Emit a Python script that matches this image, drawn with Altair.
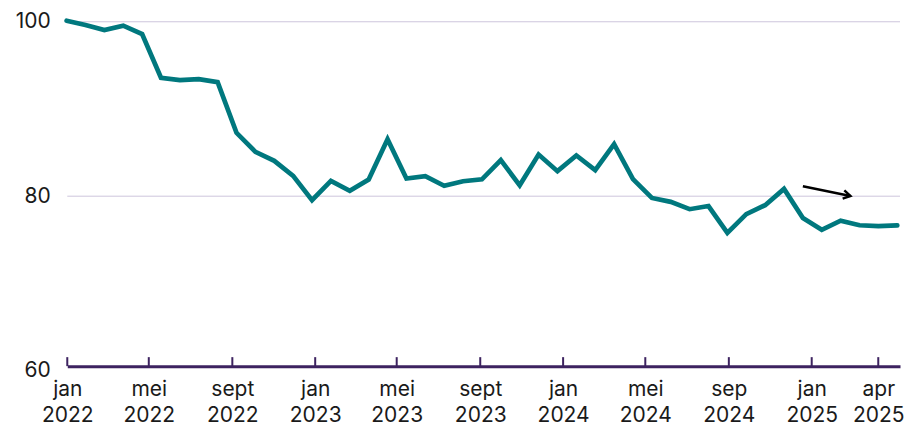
import altair as alt
import pandas as pd

# ---- data (4-weekly index) ----
values = [100.12, 99.62, 99.05, 99.55, 98.59, 93.58, 93.31, 93.43, 93.08, 87.27,
          85.09, 84.05, 82.33, 79.54, 81.76, 80.61, 81.91, 86.54, 82.03, 82.29,
          81.19, 81.72, 81.93, 84.13, 81.25, 84.78, 82.87, 84.67, 82.98, 85.97,
          81.95, 79.80, 79.35, 78.51, 78.87, 75.80, 77.95, 78.97, 80.84, 77.50,
          76.15, 77.20, 76.67, 76.56, 76.65]
first_period = "2021-12-31"
last_period = "2025-05-07"
dates = pd.date_range(first_period, last_period, periods=len(values))

tick_ymd = [(2022, 1, 1), (2022, 5, 1), (2022, 9, 1), (2023, 1, 1), (2023, 5, 1),
            (2023, 9, 1), (2024, 1, 1), (2024, 5, 1), (2024, 9, 1), (2025, 1, 1),
            (2025, 4, 9)]
tick_month_labels = ["jan", "mei", "sept", "jan", "mei", "sept", "jan", "mei",
                     "sep", "jan", "apr"]
tick_year_labels = ["2022", "2022", "2022", "2023", "2023", "2023", "2024", "2024",
                    "2024", "2025", "2025"]

y_ticks = [60, 80, 100]
grid_values = [80, 100]

arrow_dates = ["2024-12-19", "2025-02-27"]
arrow_values = [81.15, 80.03]

# ---- tables ----
df = pd.DataFrame({"date": dates, "value": values})
ticks_df = pd.DataFrame({"date": [pd.Timestamp(y, m, d) for (y, m, d) in tick_ymd]})
grid_df = pd.DataFrame({"value": grid_values})
arrow_df = pd.DataFrame({"date": pd.to_datetime(arrow_dates), "value": arrow_values})
arrow_tip = arrow_df.iloc[[1]]

TEAL = "#00787e"
PURPLE = "#3d2360"
GRID = "#cdc5dc"
TEXT = "#1a1a1a"

x_scale = alt.Scale(domain=[alt.DateTime(year=2022, month=1, date=1),
                            alt.DateTime(year=2025, month=5, date=11)])
y_scale = alt.Scale(domain=[60, 100], nice=False, zero=False)

parts = []
for (y, m, d), ml, yl in zip(tick_ymd, tick_month_labels, tick_year_labels):
    parts.append(f"(year(datum.value)=={y} && month(datum.value)=={m-1}) ? ['{ml}', '{yl}']")
label_expr = " : ".join(parts) + " : ''"

x_axis = alt.Axis(
    values=[alt.DateTime(year=y, month=m, date=d) for (y, m, d) in tick_ymd],
    labelExpr=label_expr,
    title=None,
    grid=False,
    ticks=False,
    domain=True,
    domainColor=PURPLE,
    domainWidth=3,
    offset=-4.5,
    labelFontSize=21,
    labelLineHeight=26.5,
    labelPadding=12,
    labelColor=TEXT,
    labelFlush=False,
    labelOverlap=False,
    labelBound=False,
)

y_axis = alt.Axis(
    values=y_ticks,
    title=None,
    domain=False,
    ticks=False,
    grid=False,
    labelFontSize=21,
    labelPadding=17,
    labelColor=TEXT,
)

gridlines = alt.Chart(grid_df).mark_rule(color=GRID, strokeWidth=1).encode(
    y=alt.Y("value:Q", scale=y_scale, axis=y_axis),
)

line = alt.Chart(df).mark_line(color=TEAL, strokeWidth=4.7, strokeCap="round").encode(
    x=alt.X("date:T", scale=x_scale, axis=x_axis),
    y=alt.Y("value:Q", scale=y_scale, axis=y_axis),
)

tick_marks = alt.Chart(ticks_df).mark_rule(color=PURPLE, strokeWidth=2).encode(
    x=alt.X("date:T", scale=x_scale, axis=x_axis),
    y=alt.value(335.5),
    y2=alt.value(344.5),
)

arrow_line = alt.Chart(arrow_df).mark_line(color="black", strokeWidth=2.5).encode(
    x=alt.X("date:T", scale=x_scale, axis=x_axis),
    y=alt.Y("value:Q", scale=y_scale, axis=y_axis),
)

arrow_head = alt.Chart(arrow_tip).mark_point(
    shape="M -1 -0.6 L 0 0 L -1 0.6",
    filled=False,
    stroke="black",
    strokeWidth=2.5,
    size=200,
    angle=11.6,
    opacity=1,
).encode(
    x=alt.X("date:T", scale=x_scale, axis=x_axis),
    y=alt.Y("value:Q", scale=y_scale, axis=y_axis),
)

chart = alt.layer(gridlines, line, tick_marks, arrow_line, arrow_head).properties(
    width=833,
    height=349,
    autosize=alt.AutoSizeParams(type="none"),
    padding={"left": 59.3, "top": 13.7, "right": 8, "bottom": 62},
).configure(font="Inter").configure_view(strokeWidth=0)

chart.save("out.html", embed_options={"renderer": "svg", "actions": False})
